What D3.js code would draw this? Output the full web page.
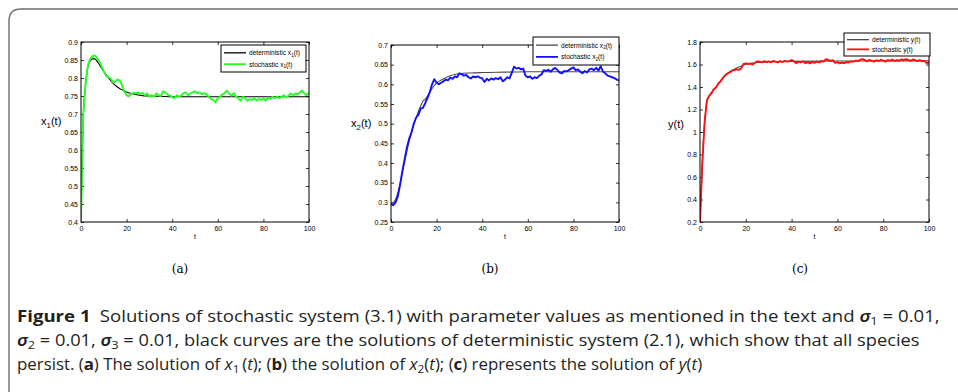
<!DOCTYPE html>
<html>
<head>
<meta charset="utf-8">
<script src="https://cdn.jsdelivr.net/npm/d3@7"></script>
<style>
  html, body { margin: 0; padding: 0; background: #fff; }
  svg { display: block; }
</style>
</head>
<body>
<svg id="fig" width="958" height="392"></svg>
<script>
// ---- time axes --------------------------------------------------------
const stochTime = d3.range(0, 101);           // t = 0, 1, ..., 100
const xTicks = [0, 20, 40, 60, 80, 100];

// ---- (a) prey x1 ------------------------------------------------------
const detTimeA = [0,0.5,1,2,3,4,5,6,7,8,9,10,12,14,16,18,20,22,24,27,30,35,40,50,60,80,100];
const detX1 = [0.40,0.58,0.69,0.78,0.83,0.848,0.853,0.853,0.847,0.838,0.828,0.818,0.801,0.786,0.775,0.767,0.761,0.757,0.754,0.751,0.750,0.749,0.748,0.748,0.748,0.748,0.748];
const stochX1 = [
  0.400,0.700,0.785,0.835,0.853,0.861,0.863,0.856,0.846,0.833,
  0.818,0.806,0.802,0.799,0.788,0.790,0.796,0.793,0.780,0.762,
  0.752,0.749,0.756,0.759,0.757,0.760,0.755,0.759,0.752,0.757,
  0.748,0.753,0.748,0.757,0.752,0.750,0.763,0.760,0.754,0.751,
  0.747,0.744,0.752,0.748,0.752,0.758,0.760,0.752,0.757,0.760,
  0.763,0.758,0.760,0.755,0.758,0.755,0.748,0.742,0.739,0.732,
  0.744,0.748,0.754,0.758,0.765,0.757,0.751,0.758,0.748,0.744,
  0.737,0.748,0.744,0.737,0.741,0.739,0.744,0.737,0.742,0.739,
  0.744,0.737,0.746,0.742,0.748,0.744,0.748,0.744,0.748,0.752,
  0.746,0.751,0.757,0.752,0.757,0.755,0.760,0.765,0.757,0.752,
  0.760];
const yTicksA = [0.4,0.45,0.5,0.55,0.6,0.65,0.7,0.75,0.8,0.85,0.9];

// ---- (b) prey x2 ------------------------------------------------------
const detTimeB = [0,1,2,3,4,5,6,7,8,9,10,11,12,13,14,15,16,17,18,19,20,22,24,26,28,30,35,40,50,60,80,100];
const detX2 = [0.296,0.299,0.308,0.324,0.348,0.376,0.404,0.431,0.456,0.478,0.498,0.515,0.531,0.545,0.557,0.562,0.570,0.580,0.589,0.597,0.603,0.611,0.617,0.622,0.625,0.627,0.629,0.630,0.631,0.632,0.632,0.632];
const stochX2 = [
  0.295,0.293,0.300,0.315,0.345,0.380,0.410,0.440,0.462,0.478,
  0.500,0.515,0.522,0.538,0.540,0.552,0.565,0.580,0.600,0.613,
  0.604,0.600,0.604,0.608,0.612,0.610,0.617,0.614,0.620,0.618,
  0.628,0.626,0.622,0.624,0.618,0.615,0.620,0.618,0.620,0.617,
  0.615,0.606,0.614,0.610,0.615,0.612,0.616,0.613,0.618,0.608,
  0.612,0.618,0.615,0.630,0.645,0.640,0.642,0.638,0.640,0.622,
  0.618,0.620,0.614,0.618,0.616,0.622,0.625,0.636,0.634,0.637,
  0.632,0.638,0.642,0.636,0.630,0.628,0.634,0.633,0.636,0.640,
  0.643,0.636,0.638,0.632,0.628,0.634,0.630,0.638,0.640,0.636,
  0.642,0.635,0.646,0.632,0.628,0.622,0.620,0.618,0.616,0.612,
  0.610];
const yTicksB = [0.25,0.3,0.35,0.4,0.45,0.5,0.55,0.6,0.65,0.7];

// ---- (c) predator y ---------------------------------------------------
const detTimeC = [0,1,2,3,4,5,6,7,8,9,10,11,12,13,14,15,16,17,18,19,20,22,25,30,40,60,80,100];
const detY = [0.2,0.72,1.08,1.27,1.32,1.35,1.375,1.40,1.43,1.455,1.48,1.50,1.52,1.535,1.548,1.558,1.568,1.577,1.585,1.593,1.600,1.610,1.618,1.624,1.628,1.631,1.632,1.632];
const stochY = [
  0.200,0.720,1.080,1.280,1.320,1.345,1.380,1.395,1.430,1.450,
  1.480,1.505,1.520,1.530,1.545,1.550,1.558,1.552,1.565,1.605,
  1.610,1.605,1.608,1.600,1.615,1.628,1.625,1.618,1.630,1.622,
  1.628,1.620,1.632,1.625,1.618,1.630,1.622,1.632,1.625,1.630,
  1.640,1.628,1.612,1.625,1.618,1.628,1.612,1.620,1.610,1.622,
  1.615,1.625,1.618,1.630,1.625,1.648,1.640,1.632,1.638,1.615,
  1.622,1.610,1.618,1.612,1.622,1.618,1.628,1.625,1.635,1.630,
  1.642,1.648,1.638,1.628,1.640,1.632,1.625,1.638,1.630,1.642,
  1.635,1.625,1.640,1.632,1.645,1.630,1.640,1.633,1.645,1.638,
  1.648,1.640,1.632,1.645,1.638,1.630,1.640,1.628,1.632,1.612,
  1.618];
const yTicksC = [0.2,0.4,0.6,0.8,1,1.2,1.4,1.6,1.8];

// ---- labels -----------------------------------------------------------
const panelTags = ["(a)", "(b)", "(c)"];

// ---- drawing ----------------------------------------------------------
const svg = d3.select("#fig");
const AX_FONT = "'Liberation Sans', Arial, sans-serif";

// figure frame with rounded top-left corner
svg.append("path")
  .attr("d", "M9,392 L9,21 Q9,9 21,9 L958,9")
  .attr("fill", "none").attr("stroke", "#6e6e6e").attr("stroke-width", 1.4);

const panels = [
  { id: "a", box: {l: 81, r: 309, t: 42, b: 222}, dom: [0.4, 0.9], yTicks: yTicksA,
    detT: detTimeA, det: detX1, sto: stochX1, detColor: "#000", stoColor: "#22ff22",
    sym: "x", sub: "1", ylab: {x: 41, y: 125},
    legend: {x: 221, y: 45, w: 85, h: 27}, tagX: 180 },
  { id: "b", box: {l: 391, r: 619, t: 45, b: 222}, dom: [0.25, 0.7], yTicks: yTicksB,
    detT: detTimeB, det: detX2, sto: stochX2, detColor: "#4a4a4a", stoColor: "#1010ff",
    sym: "x", sub: "2", ylab: {x: 351, y: 127},
    legend: {x: 533, y: 37, w: 86, h: 28}, tagX: 490 },
  { id: "c", box: {l: 700, r: 929, t: 42, b: 222}, dom: [0.2, 1.8], yTicks: yTicksC,
    detT: detTimeC, det: detY, sto: stochY, detColor: "#4a4a4a", stoColor: "#ff1010",
    sym: "y", sub: null, ylab: {x: 668, y: 128},
    legend: {x: 844, y: 33, w: 86, h: 23}, tagX: 800 }
];

const fmt = v => String(+v.toFixed(2));

// variable name with optional subscript, e.g. x1(t)
function varLabel(sel, prefix, sym, sub, size) {
  if (prefix) sel.append("tspan").text(prefix);
  sel.append("tspan").text(sym);
  if (sub) {
    sel.append("tspan").attr("font-size", size * 0.72).attr("dy", size * 0.28).text(sub);
    sel.append("tspan").attr("dy", -size * 0.28).text("(t)");
  } else {
    sel.append("tspan").text("(t)");
  }
}

panels.forEach((p, i) => {
  const B = p.box;
  const x = d3.scaleLinear().domain([0, 100]).range([B.l, B.r]);
  const y = d3.scaleLinear().domain(p.dom).range([B.b, B.t]);
  const g = svg.append("g").attr("class", "panel-" + p.id);

  const clipId = "clip-" + p.id;
  g.append("clipPath").attr("id", clipId)
    .append("rect").attr("x", B.l).attr("y", B.t).attr("width", B.r - B.l).attr("height", B.b - B.t);

  // axes with inward ticks on all four sides
  const styleAxis = a => {
    a.select(".domain").remove();
    a.selectAll("text").attr("font-family", AX_FONT).attr("font-size", 7).attr("fill", "#000");
    a.selectAll("line").attr("stroke", "#000").attr("stroke-width", 0.8);
  };
  g.append("g").attr("transform", `translate(0,${B.b})`)
    .call(d3.axisBottom(x).tickValues(xTicks).tickSizeInner(-3).tickSizeOuter(0).tickPadding(4).tickFormat(d3.format("d")))
    .call(styleAxis);
  g.append("g").attr("transform", `translate(0,${B.t})`)
    .call(d3.axisTop(x).tickValues(xTicks).tickSizeInner(-3).tickSizeOuter(0).tickFormat(""))
    .call(styleAxis);
  g.append("g").attr("transform", `translate(${B.l},0)`)
    .call(d3.axisLeft(y).tickValues(p.yTicks).tickSizeInner(-3).tickSizeOuter(0).tickPadding(3).tickFormat(fmt))
    .call(styleAxis);
  g.append("g").attr("transform", `translate(${B.r},0)`)
    .call(d3.axisRight(y).tickValues(p.yTicks).tickSizeInner(-3).tickSizeOuter(0).tickFormat(""))
    .call(styleAxis);

  // curves
  const lines = g.append("g").attr("clip-path", `url(#${clipId})`);
  const detLine = d3.line().x(d => x(d[0])).y(d => y(d[1])).curve(d3.curveMonotoneX);
  const stoLine = d3.line().x(d => x(d[0])).y(d => y(d[1]));
  lines.append("path")
    .datum(p.detT.map((t, k) => [t, p.det[k]]))
    .attr("d", detLine).attr("fill", "none").attr("stroke", p.detColor).attr("stroke-width", 1.1);
  lines.append("path")
    .datum(stochTime.map((t, k) => [t, p.sto[k]]))
    .attr("d", stoLine).attr("fill", "none").attr("stroke", p.stoColor)
    .attr("stroke-width", 1.9).attr("stroke-linejoin", "round");

  // plot frame
  g.append("rect").attr("x", B.l).attr("y", B.t).attr("width", B.r - B.l).attr("height", B.b - B.t)
    .attr("fill", "none").attr("stroke", "#000").attr("stroke-width", 1);

  // axis titles
  const yl = g.append("text").attr("x", p.ylab.x).attr("y", p.ylab.y)
    .attr("font-family", AX_FONT).attr("font-size", 11).attr("fill", "#000");
  varLabel(yl, null, p.sym, p.sub, 11);
  g.append("text").attr("x", (B.l + B.r) / 2).attr("y", 239)
    .attr("text-anchor", "middle").attr("font-family", AX_FONT).attr("font-size", 7).text("t");

  // legend
  const L = p.legend;
  const lg = g.append("g");
  lg.append("rect").attr("x", L.x).attr("y", L.y).attr("width", L.w).attr("height", L.h)
    .attr("fill", "#fff").attr("stroke", "#000").attr("stroke-width", 1);
  const rows = [
    { name: "deterministic ", color: p.detColor, w: 1.3 },
    { name: "stochastic ", color: p.stoColor, w: 1.8 }
  ];
  const rowY = k => L.y + L.h * (k === 0 ? 0.29 : 0.71);
  rows.forEach((r, k) => {
    lg.append("line").attr("x1", L.x + 3).attr("x2", L.x + 25)
      .attr("y1", rowY(k)).attr("y2", rowY(k))
      .attr("stroke", r.color).attr("stroke-width", r.w);
    const t = lg.append("text").attr("x", L.x + 28).attr("y", rowY(k) + 2.4)
      .attr("font-family", AX_FONT).attr("font-size", 6.6).attr("fill", "#000");
    varLabel(t, r.name, p.sym, p.sub, 6.6);
  });

  // panel tag
  svg.append("text").attr("x", p.tagX).attr("y", 273).attr("text-anchor", "middle")
    .attr("font-family", "'DejaVu Serif', 'Liberation Serif', serif").attr("font-size", 12)
    .text(panelTags[i]);
});

// ---- caption ----------------------------------------------------------
const CAP_FONT = "'Open Sans', 'Noto Sans', sans-serif";
const capSize = 16.5;
const capLines = [
  { y: 322, width: 923, parts: [
    {t: "Figure 1", b: true}, {t: "\u2002Solutions of stochastic system (3.1) with parameter values as mentioned in the text and "},
    {t: "\u03c3", s: true}, {t: "1", sub: true}, {t: " = 0.01,"} ] },
  { y: 346, width: 903, parts: [
    {t: "\u03c3", s: true}, {t: "2", sub: true}, {t: " = 0.01, "}, {t: "\u03c3", s: true}, {t: "3", sub: true},
    {t: " = 0.01, black curves are the solutions of deterministic system (2.1), which show that all species"} ] },
  { y: 370, width: 686, parts: [
    {t: "persist. ("}, {t: "a", b: true}, {t: ") The solution of "}, {t: "x", i: true}, {t: "1", sub: true},
    {t: "\u2009("}, {t: "t", i: true}, {t: "); ("}, {t: "b", b: true}, {t: ") the solution of "},
    {t: "x", i: true}, {t: "2", sub: true}, {t: "("}, {t: "t", i: true}, {t: "); ("}, {t: "c", b: true},
    {t: ") represents the solution of "}, {t: "y", i: true}, {t: "("}, {t: "t", i: true}, {t: ")"} ] }
];
const CAP_LEFT = 17;
capLines.forEach(line => {
  const g = svg.append("g");
  const txt = g.append("text").attr("x", 0).attr("y", 0)
    .attr("font-family", CAP_FONT).attr("font-size", capSize).attr("fill", "#231f20");
  let shifted = false;
  line.parts.forEach(pt => {
    const ts = txt.append("tspan").text(pt.t);
    if (pt.b) ts.attr("font-weight", 700);
    if (pt.i) ts.attr("font-style", "italic");
    if (pt.s) ts.attr("font-style", "italic").attr("font-weight", 600).attr("font-family", "'Noto Sans', 'DejaVu Sans', sans-serif");
    if (pt.sub) { ts.attr("font-size", capSize * 0.7).attr("dy", 3); shifted = true; }
    else if (shifted) { ts.attr("dy", -3); shifted = false; }
  });
  // fit each line to the width of its text block line
  const w = txt.node().getComputedTextLength();
  g.attr("transform", `translate(${CAP_LEFT},${line.y}) scale(${line.width / w},1)`);
});
</script>
</body>
</html>
